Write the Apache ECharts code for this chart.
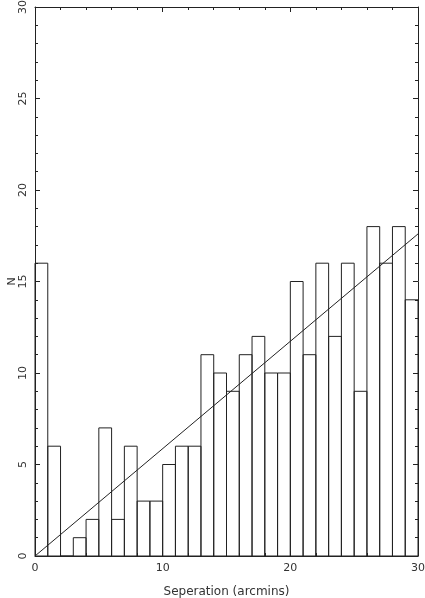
<!DOCTYPE html>
<html>
<head>
<meta charset="utf-8">
<script src="https://cdn.jsdelivr.net/npm/echarts@6/dist/echarts.min.js"></script>
<style>
  html, body { margin: 0; padding: 0; background: #fff; }
  #chart { width: 425px; height: 598px; }
</style>
</head>
<body>
<div id="chart"></div>
<script>
// histogram bins: left edge of each 1-arcmin bin and its count
const binStarts = [0, 1, 2, 3, 4, 5, 6, 7, 8, 9, 10, 11, 12, 13, 14, 15, 16, 17, 18, 19, 20, 21, 22, 23, 24, 25, 26, 27, 28, 29];
const counts = [16, 6, 0, 1, 2, 7, 2, 6, 3, 3, 5, 6, 6, 11, 10, 9, 11, 12, 10, 10, 15, 11, 16, 12, 16, 9, 18, 16, 18, 14];
const binWidth = 1;
// straight-line fit, from (0,0) to (30,17.6)
const fitX = [0, 30];
const fitY = [0, 17.6];

const fontFam = 'DejaVu Sans';
const ink = '#222';
const textInk = '#333';

const chart = echarts.init(document.getElementById('chart'));

const axisCommon = {
  type: 'value',
  min: 0,
  max: 30,
  axisLine: { show: true, onZero: false, lineStyle: { color: ink, width: 1 } },
  axisTick: { show: true, inside: true, length: 5, lineStyle: { color: ink } },
  minorTick: { show: true, splitNumber: 5, length: 3, lineStyle: { color: ink } },
  splitLine: { show: false }
};

const option = {
  animation: false,
  grid: { left: 35, right: 7, top: 7, bottom: 42, containLabel: false, outerBoundsMode: 'none' },
  xAxis: [
    Object.assign({}, axisCommon, {
      position: 'bottom',
      interval: 10,
      name: 'Seperation (arcmins)',
      nameLocation: 'middle',
      nameGap: 30,
      nameMoveOverlap: false,
      nameTextStyle: { color: textInk, fontSize: 12, fontFamily: fontFam },
      axisLabel: { color: textInk, fontSize: 11, fontFamily: fontFam, margin: 7 }
    }),
    Object.assign({}, axisCommon, {
      position: 'top',
      interval: 10,
      axisLabel: { show: false }
    })
  ],
  yAxis: [
    Object.assign({}, axisCommon, {
      position: 'left',
      interval: 5,
      name: 'N',
      nameLocation: 'middle',
      nameGap: 17,
      nameMoveOverlap: false,
      nameTextStyle: { color: textInk, fontSize: 11, fontFamily: fontFam },
      axisLabel: { color: textInk, fontSize: 11, fontFamily: fontFam, rotate: 90, margin: 6 }
    }),
    Object.assign({}, axisCommon, {
      position: 'right',
      interval: 5,
      axisLabel: { show: false }
    })
  ],
  series: [
    {
      type: 'custom',
      xAxisIndex: 0,
      yAxisIndex: 0,
      data: binStarts.map((x, i) => [x, counts[i]]),
      renderItem: function (params, api) {
        const p0 = api.coord([api.value(0), 0]);
        const p1 = api.coord([api.value(0) + binWidth, api.value(1)]);
        return {
          type: 'rect',
          shape: { x: p0[0], y: p1[1], width: p1[0] - p0[0], height: p0[1] - p1[1] },
          style: { fill: 'none', stroke: ink, lineWidth: 1 }
        };
      }
    },
    {
      type: 'line',
      xAxisIndex: 0,
      yAxisIndex: 0,
      data: fitX.map((x, i) => [x, fitY[i]]),
      symbol: 'none',
      lineStyle: { color: ink, width: 1 }
    }
  ]
};

chart.setOption(option);
</script>
</body>
</html>
